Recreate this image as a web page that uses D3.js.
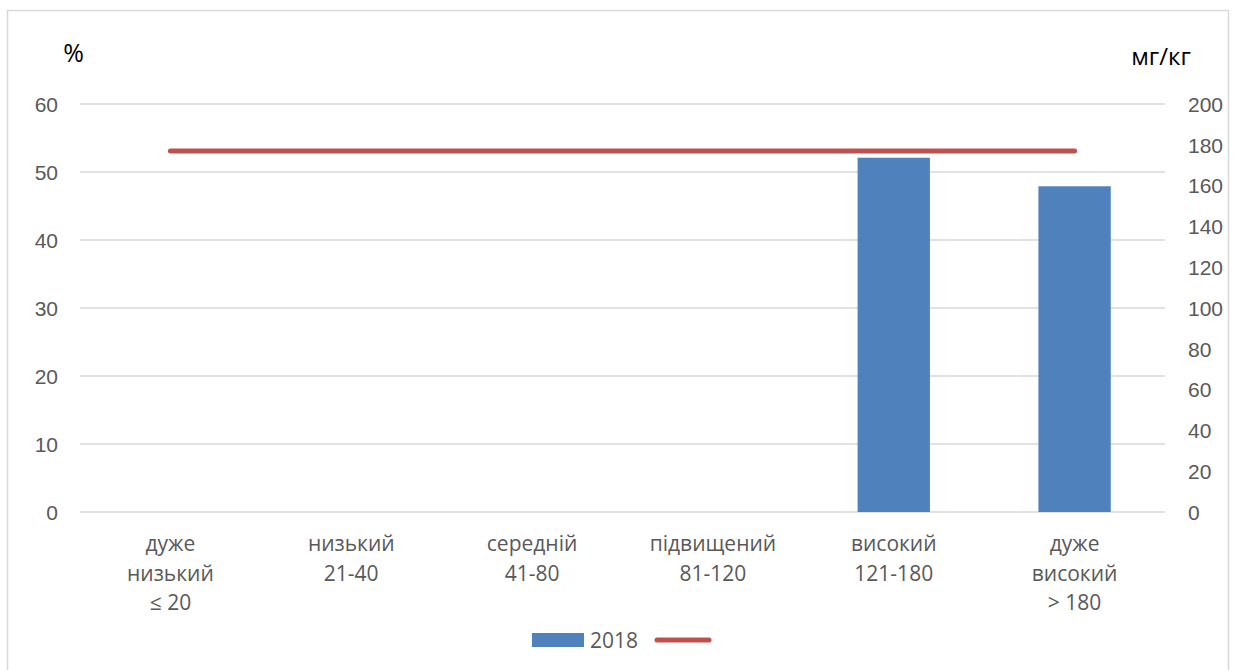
<!DOCTYPE html>
<html>
<head>
<meta charset="utf-8">
<script src="https://cdn.jsdelivr.net/npm/d3@7"></script>
<style>
  body { margin: 0; background: #fff; }
  svg { font-family: "Open Sans", "Liberation Sans", sans-serif; }
</style>
</head>
<body>
<div id="chart"></div>
<script>
// data
const categories = [
    ["дуже", "низький", "≤ 20"],
    ["низький", "21-40"],
    ["середній", "41-80"],
    ["підвищений", "81-120"],
    ["високий", "121-180"],
    ["дуже", "високий", "> 180"]
];
const shares2018 = [0, 0, 0, 0, 52.1, 47.9];   // %, left axis
const contentLine = [177, 177, 177, 177, 177, 177]; // мг/кг, right axis
const leftTicks = [0, 10, 20, 30, 40, 50, 60];
const rightTicks = [0, 20, 40, 60, 80, 100, 120, 140, 160, 180, 200];

const width = 1235, height = 670;
const plot = { left: 80, right: 1165, top: 104, bottom: 512 };

const svg = d3.select("#chart")
    .append("svg")
    .attr("width", width)
    .attr("height", height);

// outer frame
svg.append("rect")
    .attr("x", 7.5).attr("y", 10.5)
    .attr("width", 1221).attr("height", 680)
    .attr("fill", "none")
    .attr("stroke", "#d9d9d9")
    .attr("stroke-width", 1.5);

const x = d3.scaleBand()
    .domain(d3.range(categories.length))
    .range([plot.left, plot.right])
    .paddingInner(0.6)
    .paddingOuter(0.3);

const xCenter = d3.scaleBand()
    .domain(d3.range(categories.length))
    .range([plot.left, plot.right]);

const yLeft = d3.scaleLinear().domain([0, 60]).range([plot.bottom, plot.top]);
const yRight = d3.scaleLinear().domain([0, 200]).range([plot.bottom, plot.top]);

// gridlines
svg.append("g")
    .selectAll("line")
    .data(leftTicks)
    .enter()
    .append("line")
    .attr("x1", plot.left)
    .attr("x2", plot.right)
    .attr("y1", (d) => yLeft(d))
    .attr("y2", (d) => yLeft(d))
    .attr("stroke", "#d9d9d9")
    .attr("stroke-width", 1.5);

// left axis
const leftAxis = svg.append("g")
    .attr("transform", `translate(${plot.left - 22},0)`)
    .call(d3.axisLeft(yLeft).tickValues(leftTicks).tickSize(0).tickPadding(0));
leftAxis.select(".domain").remove();
leftAxis.selectAll("text")
    .attr("fill", "#595959")
    .style("font-size", "21px")
    .attr("dy", "0.35em");

// right axis
const rightAxis = svg.append("g")
    .attr("transform", `translate(${plot.right + 23},0)`)
    .call(d3.axisRight(yRight).tickValues(rightTicks).tickSize(0).tickPadding(0));
rightAxis.select(".domain").remove();
rightAxis.selectAll("text")
    .attr("fill", "#595959")
    .style("font-size", "21px")
    .attr("dy", "0.35em");

// axis unit labels
svg.append("text")
    .attr("x", 73.5).attr("y", 62)
    .attr("text-anchor", "middle")
    .attr("fill", "#000")
    .style("font-size", "25px")
    .text("%");
svg.append("text")
    .attr("x", 1161).attr("y", 65)
    .attr("text-anchor", "middle")
    .attr("fill", "#000")
    .style("font-size", "24px")
    .text("мг/кг");

// bars
svg.append("g")
    .selectAll("rect")
    .data(shares2018)
    .enter()
    .append("rect")
    .attr("x", (d, i) => x(i))
    .attr("y", (d) => yLeft(d))
    .attr("width", x.bandwidth())
    .attr("height", (d) => plot.bottom - yLeft(d))
    .attr("fill", "#4f81bd");

// line on right axis
const line = d3.line()
    .x((d, i) => xCenter(i) + xCenter.bandwidth() / 2)
    .y((d) => yRight(d));
svg.append("path")
    .datum(contentLine)
    .attr("d", line)
    .attr("fill", "none")
    .attr("stroke", "#c0504d")
    .attr("stroke-width", 5)
    .attr("stroke-linecap", "round");

// category labels
const catG = svg.append("g")
    .selectAll("text")
    .data(categories)
    .enter()
    .append("text")
    .attr("text-anchor", "middle")
    .attr("fill", "#595959")
    .style("font-size", "21px");
catG.selectAll("tspan")
    .data((d, i) => d.map((t) => ({ t, i })))
    .enter()
    .append("tspan")
    .attr("x", (d) => xCenter(d.i) + xCenter.bandwidth() / 2)
    .attr("y", (d, j) => 551 + j * 29.5)
    .text((d) => d.t);

// legend
const legend = svg.append("g");
legend.append("rect")
    .attr("x", 532).attr("y", 633)
    .attr("width", 52).attr("height", 14)
    .attr("fill", "#4f81bd");
legend.append("text")
    .attr("x", 590).attr("y", 648)
    .attr("fill", "#595959")
    .style("font-size", "21px")
    .text("2018");
legend.append("line")
    .attr("x1", 657).attr("x2", 709)
    .attr("y1", 640).attr("y2", 640)
    .attr("stroke", "#c0504d")
    .attr("stroke-width", 5)
    .attr("stroke-linecap", "round");
</script>
</body>
</html>
